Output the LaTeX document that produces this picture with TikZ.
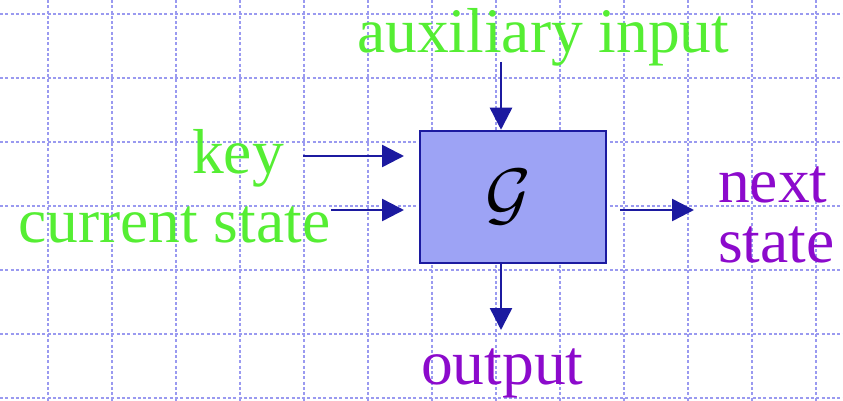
\documentclass[tikz,border=0pt]{standalone}
\usepackage{fix-cm}
\usepackage{fontspec}
\setmainfont{Liberation Serif}
\usepackage{tikz}
\usetikzlibrary{arrows.meta}
\definecolor{gridblue}{RGB}{154,154,240}
\definecolor{boxfill}{RGB}{157,163,245}
\definecolor{inkblue}{RGB}{28,26,160}
\definecolor{ingreen}{RGB}{85,238,51}
\definecolor{outpurple}{RGB}{140,10,204}
\tikzset{
  gridline/.style={gridblue, line width=1.6pt, dash pattern=on 3pt off 2.3pt},
  block/.style={rectangle, draw=inkblue, fill=boxfill, line width=2.5pt,
    minimum width=186pt, minimum height=132pt, inner sep=0pt},
  inlabel/.style={text=ingreen, inner sep=0pt, font=\fontsize{63.5}{60}\selectfont},
  outlabel/.style={text=outpurple, inner sep=0pt, align=left,
    font=\fontsize{63.5}{60}\selectfont},
  arr/.style={-{Triangle[length=22pt, width=22pt]}, inkblue, line width=2.5pt},
}

\begin{document}
\begin{tikzpicture}[x=1pt, y=-1pt]
  \useasboundingbox (0,0) rectangle (843,401);
  % background grid
  \foreach \gx in {48,112,...,816}
    \draw[gridline] (\gx,0) -- (\gx,401);
  \foreach \gy in {14,78,...,398}
    \draw[gridline] (0,\gy) -- (843,\gy);

  \node[block] (gbox) at (513,197) {};
  \node[inner sep=0pt] (gsym) at (508,197) {\fontsize{70}{70}\selectfont$\mathcal{G}$};

  \node[inlabel, anchor=base west] (aux) at (357,53) {auxiliary input};
  \node[inlabel, anchor=base west] (key) at (192,173) {key};
  \node[inlabel, anchor=base west] (cur) at (18,242) {current state};
  \node[outlabel, anchor=base west] (next) at (718,262) {next\\state};
  \node[outlabel, anchor=base west] (out) at (421,384) {output};

  \coordinate (auxin) at (501,62);
  \coordinate (keyin) at (303,156);
  \coordinate (curin) at (331,210);
  \coordinate (keytip) at (404,156);
  \coordinate (curtip) at (404,210);
  \coordinate (nextout) at (620,210);
  \coordinate (nexttip) at (694,210);
  \coordinate (outtip) at (501,330);

  \draw[arr] (auxin) -- (auxin |- gbox.north);
  \draw[arr] (keyin) -- (keytip);
  \draw[arr] (curin) -- (curtip);
  \draw[arr] (nextout) -- (nexttip);
  \draw[arr] (outtip |- gbox.south) -- (outtip);
\end{tikzpicture}
\end{document}
